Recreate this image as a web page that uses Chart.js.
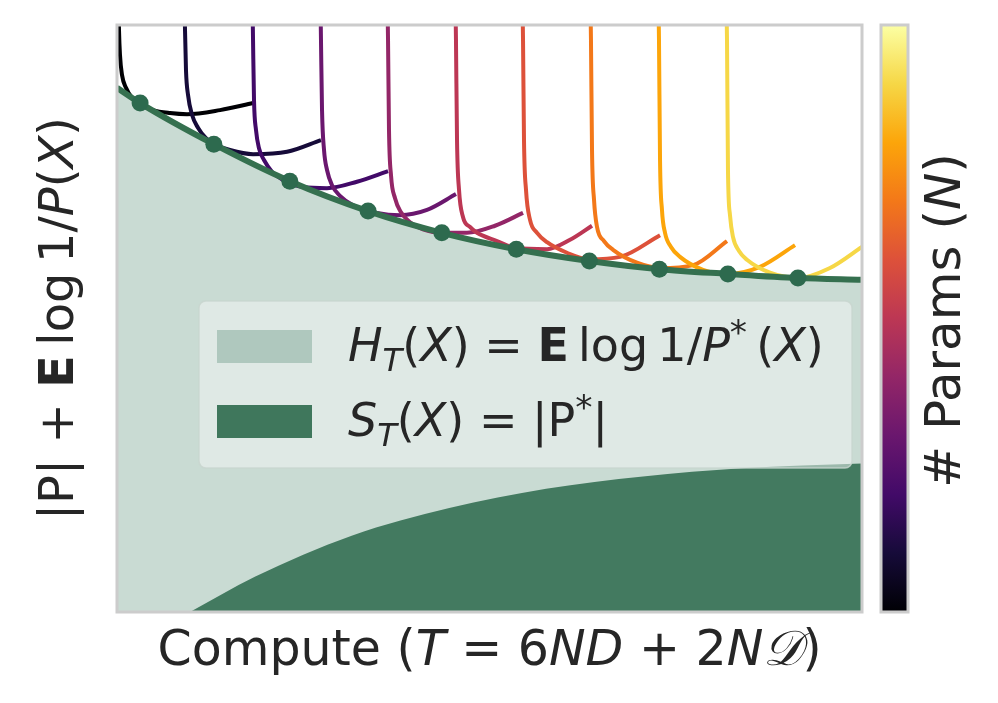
<!DOCTYPE html>
<html>
<head>
<meta charset="utf-8">
<script src="https://cdn.jsdelivr.net/npm/chart.js@4.4.1/dist/chart.umd.min.js"></script>
<style>
  html, body { margin: 0; padding: 0; background: #fff; }
</style>
</head>
<body>
<canvas id="myChart" width="998" height="703"></canvas>
<script>
// inferno colormap, also used for the 10 model sizes
const infernoStops = ['#000004', '#160b39', '#420a68', '#6a176e', '#932667', '#bc3754',
                      '#dd513a', '#f37819', '#fca50a', '#f6d746', '#fcffa4'];

// compute-optimal frontier (arbitrary units, compute 0..10, loss 0..10)
const frontierX = [0, 0.31, 1.30, 2.32, 3.37, 4.36, 5.36, 6.34, 7.28, 8.20, 9.14, 10];
const frontierY = [8.93, 8.67, 7.97, 7.34, 6.83, 6.46, 6.18, 5.98, 5.84, 5.76, 5.69, 5.66];

// optimum point of each model size
const optimumX = [0.31, 1.30, 2.32, 3.37, 4.36, 5.36, 6.34, 7.28, 8.20, 9.14];
const optimumY = [8.67, 7.97, 7.34, 6.83, 6.46, 6.18, 5.98, 5.84, 5.76, 5.69];

// |P*| part of the frontier
const paramX = [0.98, 1.85, 3.15, 4.46, 5.76, 7.06, 8.38, 10];
const paramY = [0, 0.60, 1.30, 1.77, 2.10, 2.31, 2.45, 2.53];

// loss curves, one per model size (small -> large)
const lossX = [
  [0.013, 0.027, 0.040, 0.067, 0.121, 0.201, 0.322, 0.483, 0.711, 0.940, 1.383, 1.826],
  [0.899, 0.913, 0.926, 0.953, 1.007, 1.087, 1.195, 1.329, 1.517, 1.826, 2.282, 2.738],
  [1.812, 1.826, 1.839, 1.866, 1.906, 1.973, 2.081, 2.228, 2.497, 2.819, 3.221, 3.638],
  [2.725, 2.738, 2.752, 2.779, 2.819, 2.886, 2.993, 3.168, 3.490, 3.799, 4.161, 4.550],
  [3.624, 3.638, 3.651, 3.678, 3.732, 3.812, 3.933, 4.107, 4.376, 4.698, 5.074, 5.450],
  [4.537, 4.550, 4.564, 4.591, 4.644, 4.738, 4.832, 5.101, 5.356, 5.772, 6.081, 6.376],
  [5.436, 5.450, 5.463, 5.490, 5.544, 5.638, 5.772, 6.040, 6.336, 6.752, 7.289],
  [6.349, 6.362, 6.376, 6.403, 6.443, 6.537, 6.658, 6.980, 7.289, 7.732, 8.188],
  [7.262, 7.275, 7.289, 7.315, 7.356, 7.436, 7.557, 7.866, 8.201, 8.631, 9.101],
  [8.174, 8.188, 8.201, 8.228, 8.268, 8.349, 8.456, 8.765, 9.141, 9.570, 10.0]
];
const lossY = [
  [10.94, 9.91, 9.49, 9.15, 8.93, 8.76, 8.64, 8.55, 8.50, 8.48, 8.55, 8.67],
  [10.94, 9.91, 9.23, 8.81, 8.47, 8.25, 8.07, 7.96, 7.87, 7.80, 7.84, 8.04],
  [10.94, 9.74, 8.72, 8.21, 7.90, 7.70, 7.50, 7.36, 7.24, 7.22, 7.33, 7.51],
  [10.94, 9.74, 8.55, 7.87, 7.53, 7.27, 7.09, 6.93, 6.80, 6.76, 6.85, 7.12],
  [10.94, 9.74, 8.21, 7.44, 7.05, 6.81, 6.64, 6.52, 6.46, 6.46, 6.58, 6.80],
  [10.94, 9.74, 8.04, 7.19, 6.73, 6.56, 6.46, 6.32, 6.20, 6.18, 6.34, 6.58],
  [10.94, 9.74, 8.04, 7.19, 6.68, 6.46, 6.30, 6.12, 6.01, 6.05, 6.42],
  [10.94, 9.74, 7.87, 7.02, 6.56, 6.32, 6.17, 5.95, 5.86, 5.91, 6.32],
  [10.94, 9.74, 7.70, 6.85, 6.46, 6.22, 6.05, 5.83, 5.76, 5.88, 6.25],
  [10.94, 9.74, 7.53, 6.76, 6.39, 6.15, 6.00, 5.78, 5.69, 5.86, 6.22]
];

// texts, as [text, style] runs: r upright, i italic, b bold, sub / sup
const xLabel = [['Compute (', 'r'], ['T', 'i'], [' = 6', 'r'], ['ND', 'i'], [' + 2', 'r'], ['N\u{1D49F}', 'i'], [')', 'r']];
const yLabel = [['|P| + ', 'r'], ['E', 'b'], ['\u2009log\u20091/', 'r'], ['P', 'i'], ['(', 'r'], ['X', 'i'], [')', 'r']];
const cbarLabel = [['# Params (', 'r'], ['N', 'i'], [')', 'r']];
const legendLabels = [
  [['H', 'i'], ['T', 'sub'], ['(', 'r'], ['X', 'i'], [') = ', 'r'], ['E', 'b'], ['\u2009log\u20091/', 'r'], ['P', 'i'], ['*', 'sup'], ['\u2009(', 'r'], ['X', 'i'], [')', 'r']],
  [['S', 'i'], ['T', 'sub'], ['(', 'r'], ['X', 'i'], [') = |P', 'r'], ['*', 'sup'], ['|', 'r']]
];

const lightGreen = '#c9dbd3';
const darkGreen = '#437a60';
const lineGreen = '#35704f';
const textColor = '#262626';
const FONT = '"DejaVu Sans", "Noto Sans", sans-serif';

const toPts = (xs, ys) => xs.map((x, i) => ({ x: x, y: ys[i] }));

const fontFor = (st, size) => {
  if (st === 'b') return `bold ${size}px ${FONT}`;
  if (st === 'i') return `italic ${size}px ${FONT}`;
  if (st === 'sub') return `italic ${size * 0.7}px ${FONT}`;
  if (st === 'sup') return `${size * 0.75}px ${FONT}`;
  return `${size}px ${FONT}`;
};
const richWidth = (c, segs, size) => segs.reduce((w, [t, st]) => {
  c.font = fontFor(st, size);
  return w + c.measureText(t).width;
}, 0);
const drawRich = (c, segs, size, x, y) => {
  segs.forEach(([t, st]) => {
    c.font = fontFor(st, size);
    const dy = st === 'sub' ? size * 0.22 : st === 'sup' ? -size * 0.38 : 0;
    c.fillText(t, x, y + dy);
    x += c.measureText(t).width;
  });
};

const decorations = {
  id: 'decorations',
  afterDatasetsDraw(chart) {
    const c = chart.ctx;
    const a = chart.chartArea;
    c.save();
    // frame
    c.strokeStyle = '#cccccc';
    c.lineWidth = 3;
    c.strokeRect(a.left, a.top, a.right - a.left, a.bottom - a.top);

    // legend box
    const lx = a.left + 82, ly = a.top + 276, lw = 653, lh = 167;
    c.beginPath();
    c.roundRect(lx, ly, lw, lh, 7);
    c.fillStyle = 'rgba(245,248,247,0.5)';
    c.fill();
    c.strokeStyle = 'rgba(200,212,206,0.8)';
    c.lineWidth = 1.5;
    c.stroke();
    const patchColors = ['#afc8be', '#3f775c'];
    legendLabels.forEach((segs, i) => {
      const rowY = ly + 28 + i * 75;
      c.fillStyle = patchColors[i];
      c.fillRect(lx + 18, rowY + 1, 95, 33);
      c.fillStyle = textColor;
      c.textBaseline = 'alphabetic';
      drawRich(c, segs, 46, lx + 149, rowY + 32);
    });
    c.restore();
  },
  afterDraw(chart) {
    const c = chart.ctx;
    const a = chart.chartArea;
    c.save();
    c.fillStyle = textColor;
    c.textBaseline = 'alphabetic';

    // x label
    const xw = richWidth(c, xLabel, 49);
    drawRich(c, xLabel, 49, (a.left + a.right) / 2 - xw / 2, a.bottom + 53);

    // y label
    const yw = richWidth(c, yLabel, 48);
    c.save();
    c.translate(a.left - 44, (a.top + a.bottom) / 2);
    c.rotate(-Math.PI / 2);
    drawRich(c, yLabel, 48, -yw / 2, 0);
    c.restore();

    // colorbar
    const cx = a.right + 19, cw = 27;
    const grad = c.createLinearGradient(0, a.bottom, 0, a.top);
    infernoStops.forEach((col, i) => grad.addColorStop(i / (infernoStops.length - 1), col));
    c.fillStyle = grad;
    c.fillRect(cx, a.top, cw, a.bottom - a.top);
    c.strokeStyle = '#cccccc';
    c.lineWidth = 3;
    c.strokeRect(cx, a.top, cw, a.bottom - a.top);

    // colorbar label
    c.fillStyle = textColor;
    const cbw = richWidth(c, cbarLabel, 50);
    c.save();
    c.translate(a.right + 98, (a.top + a.bottom) / 2 + 2);
    c.rotate(-Math.PI / 2);
    drawRich(c, cbarLabel, 50, -cbw / 2, 0);
    c.restore();
    c.restore();
  }
};

const datasets = [];
// light area under the frontier
datasets.push({
  data: toPts(frontierX, frontierY), showLine: true, fill: 'start',
  backgroundColor: lightGreen, borderWidth: 0, pointRadius: 0,
  cubicInterpolationMode: 'monotone', order: 50
});
// |P*| area
datasets.push({
  data: toPts(paramX, paramY), showLine: true, fill: 'start',
  backgroundColor: darkGreen, borderWidth: 0, pointRadius: 0,
  cubicInterpolationMode: 'monotone', order: 40
});
// loss curves
lossX.forEach((xs, i) => {
  datasets.push({
    data: toPts(xs, lossY[i]), showLine: true, fill: false,
    borderColor: infernoStops[i], borderWidth: 4, pointRadius: 0,
    cubicInterpolationMode: 'monotone', order: 30 - i
  });
});
// frontier line
datasets.push({
  data: toPts(frontierX, frontierY), showLine: true, fill: false,
  borderColor: lineGreen, borderWidth: 6, pointRadius: 0,
  cubicInterpolationMode: 'monotone', order: 2
});
// optimum dots
datasets.push({
  data: toPts(optimumX, optimumY), showLine: false,
  backgroundColor: '#2d6a4e', borderWidth: 0, pointRadius: 8.5,
  order: 1
});

new Chart(document.getElementById('myChart'), {
  type: 'scatter',
  data: { datasets: datasets },
  options: {
    responsive: false,
    animation: false,
    layout: { padding: { left: 117, right: 136, top: 25, bottom: 91 } },
    plugins: { legend: { display: false }, tooltip: { enabled: false } },
    scales: {
      x: { type: 'linear', min: 0, max: 10, display: false },
      y: { type: 'linear', min: 0, max: 10, display: false }
    }
  },
  plugins: [decorations]
});
</script>
</body>
</html>
